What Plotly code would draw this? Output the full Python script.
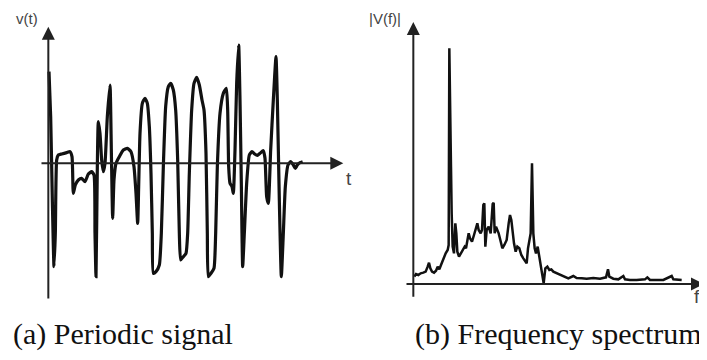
import plotly.graph_objects as go

# ---- (a) Periodic signal: time samples (arbitrary units) and amplitude ----
t = [2, 7, 12, 17, 21, 25, 30, 40, 55, 65, 71, 75, 81, 90, 100, 110, 120, 130, 137,
     140, 143, 147, 150, 155, 160, 165, 170, 177, 185, 189, 193, 197, 203, 213, 225,
     237, 248, 257, 263, 268, 271, 275, 282, 290, 297, 303, 308, 312, 315, 323, 333,
     339, 345, 352, 360, 367, 375, 382, 388, 393, 397, 405, 413, 418, 423, 430, 437,
     445, 453, 461, 467, 473, 477, 480, 488, 497, 502, 507, 515, 525, 534, 538, 541,
     545, 551, 555, 560, 565, 571, 575, 579, 583, 588, 595, 603, 611, 619, 627, 635,
     645, 650, 655, 660, 667, 675, 683, 687, 693, 699, 705, 711, 719, 727, 735, 741,
     747, 755, 763]
v = [275, 140, -110, -310, -210, 10, 25, 28, 32, 35, 20, -90, -65, -50, -45, -55, -32,
     -25, -35, -210, -340, -10, 125, 90, 10, -25, 0, 140, 235, 40, -165, -50, 0, 20,
     40, 45, 35, -10, -90, -180, -70, 90, 180, 195, 180, 110, -30, -210, -330, -325,
     -305, -210, -10, 170, 230, 240, 220, 160, 10, -210, -290, -280, -270, -210, -30,
     160, 240, 258, 235, 190, 160, 30, -210, -340, -330, -315, -210, -10, 150, 210,
     225, 160, -10, -60, -70, -90, 40, 240, 355, 190, -60, -310, -210, -60, 25, 35,
     28, 24, 30, 38, 15, -100, -120, 40, 190, 320, 190, -110, -340, -210, -70, -5, 5,
     -5, -15, -5, 2, 5]

# ---- (b) Frequency spectrum: frequency bins (arbitrary units) and magnitude ----
f = [3, 8, 15, 22, 30, 37, 43, 47, 51, 56, 62, 68, 73, 78, 83, 90, 97, 103, 106, 108,
     111, 113, 115, 118, 122, 126, 129, 132, 137, 142, 148, 154, 158, 162, 166, 170,
     176, 182, 188, 192, 196, 202, 206, 210, 213, 216, 220, 226, 232, 238, 241, 244,
     248, 252, 256, 261, 267, 273, 280, 286, 290, 294, 298, 302, 307, 312, 318, 324,
     330, 336, 340, 344, 348, 352, 356, 360, 364, 368, 373, 378, 383, 388, 391, 396,
     402, 408, 414, 420, 430, 440, 452, 465, 480, 490, 505, 520, 540, 560, 578, 584,
     588, 600, 615, 630, 635, 650, 670, 695, 702, 710, 730, 750, 775, 780, 805]
mag = [22, 30, 27, 32, 34, 37, 52, 64, 47, 37, 34, 40, 52, 44, 57, 77, 92, 102, 117,
       707, 552, 352, 212, 112, 92, 182, 152, 97, 82, 92, 102, 112, 107, 132, 152, 137,
       127, 147, 172, 182, 162, 152, 162, 237, 242, 112, 162, 172, 152, 240, 244, 152,
       172, 162, 152, 132, 107, 117, 132, 182, 207, 192, 152, 122, 97, 112, 107, 87,
       77, 67, 62, 107, 132, 152, 362, 152, 107, 92, 112, 82, 52, 22, 2, 47, 52, 42,
       44, 37, 32, 27, 22, 17, 24, 18, 17, 16, 18, 16, 20, 44, 22, 16, 14, 24, 14, 12,
       12, 14, 20, 12, 12, 12, 24, 14, 12]

# the page body adds an 8 px offset; size the figure so it ends at the window edge
OFF = 8
W, H = 707 - OFF, 360 - OFF

fig = go.Figure()
fig.add_trace(go.Scatter(x=t, y=v, mode="lines",
                         line=dict(color="#111", width=3.2, shape="spline", smoothing=0.5),
                         xaxis="x", yaxis="y", hoverinfo="skip"))
fig.add_trace(go.Scatter(x=f, y=mag, mode="lines", line=dict(color="#111", width=2.5),
                         xaxis="x2", yaxis="y2", hoverinfo="skip"))

ax_common = dict(visible=False, fixedrange=True)
split = (360 - OFF) / W
fig.update_layout(
    width=W, height=H, margin=dict(l=0, r=0, t=0, b=0),
    paper_bgcolor="white", plot_bgcolor="rgba(0,0,0,0)", showlegend=False,
    xaxis=dict(domain=[0, split], range=[-121, 935], **ax_common),
    yaxis=dict(domain=[0, 1], range=[-590, 466], **ax_common),
    xaxis2=dict(domain=[split, 1], range=[-160, 881], **ax_common),
    yaxis2=dict(domain=[0, 1], range=[-228, 828], anchor="x2", **ax_common),
)

axis_col = "#222"
arrows = [
    # (a) axes
    dict(xref="x", yref="y", axref="x", ayref="y", x=0, y=410, ax=0, ay=-410),
    dict(xref="x", yref="y", axref="x", ayref="y", x=885, y=0, ax=-25, ay=0),
    # (b) axes
    dict(xref="x2", yref="y2", axref="x2", ayref="y2", x=0, y=786, ax=0, ay=-43),
    dict(xref="x2", yref="y2", axref="x2", ayref="y2", x=872, y=0, ax=-25, ay=0),
]
for a in arrows:
    fig.add_annotation(text="", showarrow=True, arrowhead=2, arrowsize=1.3, arrowwidth=2,
                       arrowcolor=axis_col, standoff=0, **a)

def paper_text(txt, x, y, font, xanchor="left", yanchor="middle"):
    fig.add_annotation(text=txt, xref="paper", yref="paper",
                       x=(x - OFF) / W, y=1 - (y - OFF) / H,
                       xanchor=xanchor, yanchor=yanchor, showarrow=False, font=font)

lab_font = dict(family="Liberation Sans, Arial", size=15, color="#444")
big_lab = dict(family="Liberation Sans, Arial", size=19, color="#444")
paper_text("v(t)", 14, 8, lab_font, yanchor="top")
paper_text("t", 344, 178, big_lab)
paper_text("|V(f)|", 367, 8, lab_font, yanchor="top")
paper_text("f", 692, 296, big_lab)

cap_font = dict(family="Liberation Serif, Times New Roman, serif", size=30, color="#111")
paper_text("(a) Periodic signal", 11, 334, cap_font)
paper_text("(b) Frequency spectrum", 413, 334, cap_font)

fig.write_html("out.html")
